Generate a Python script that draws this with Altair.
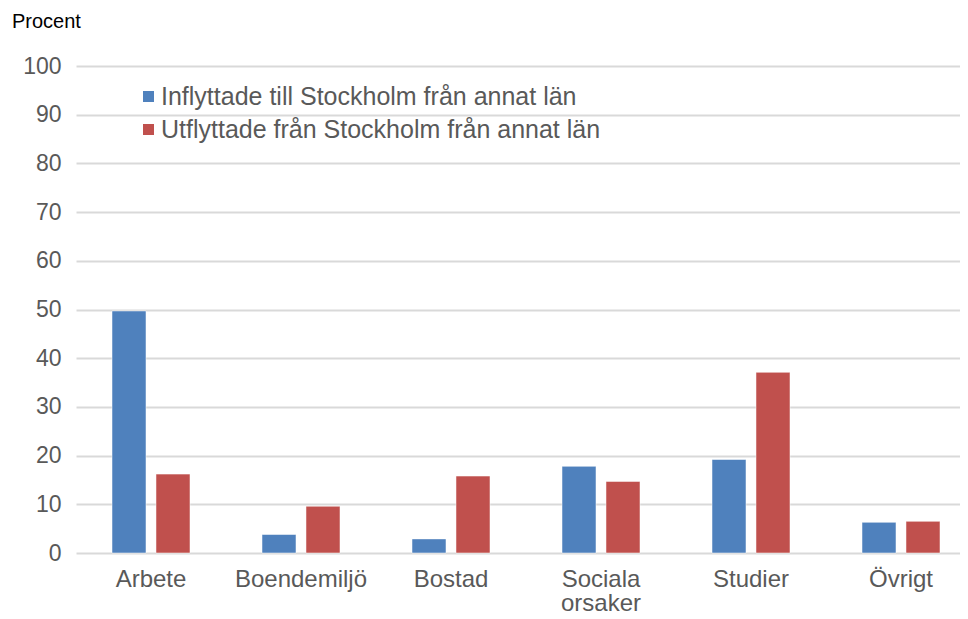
import altair as alt
import pandas as pd

categories = ["Arbete", "Boendemiljö", "Bostad", "Sociala orsaker", "Studier", "Övrigt"]
series_names = ["Inflyttade till Stockholm från annat län", "Utflyttade från Stockholm från annat län"]
inflyttade = [49.7, 3.8, 2.9, 17.8, 19.2, 6.3]
utflyttade = [16.2, 9.6, 15.8, 14.7, 37.1, 6.5]
y_ticks = [0, 10, 20, 30, 40, 50, 60, 70, 80, 90, 100]

rows = []
for c, a, b in zip(categories, inflyttade, utflyttade):
    rows.append({"kategori": c, "serie": series_names[0], "värde": a})
    rows.append({"kategori": c, "serie": series_names[1], "värde": b})
df = pd.DataFrame(rows)

FONT = "Liberation Sans"

chart = alt.Chart(df).mark_bar(stroke="#ffffff", strokeOpacity=0.5, strokeWidth=1).encode(
    x=alt.X("kategori:N", sort=categories, title=None,
            scale=alt.Scale(range=[0, 900], paddingInner=0.48, paddingOuter=0.24),
            axis=alt.Axis(labelAngle=0, labelFont=FONT, labelFontSize=24, labelColor="#595959",
                          labelPadding=14, ticks=False, domain=False, grid=False,
                          labelLineHeight=24,
                          labelExpr="datum.label == 'Sociala orsaker' ? ['Sociala', 'orsaker'] : datum.label")),
    xOffset=alt.XOffset("serie:N", sort=series_names,
                        scale=alt.Scale(paddingInner=0.227, paddingOuter=0)),
    y=alt.Y("värde:Q", title=None,
            scale=alt.Scale(domain=[0, 100], nice=False),
            axis=alt.Axis(values=y_ticks, labelFont=FONT, labelFontSize=23, labelColor="#595959",
                          labelPadding=15, ticks=False, domain=False,
                          gridColor="#d9d9d9", gridWidth=2)),
    color=alt.Color("serie:N", sort=series_names,
                    scale=alt.Scale(domain=series_names, range=["#4F81BD", "#C0504D"]),
                    legend=alt.Legend(title=None, orient="none", legendX=60, legendY=18,
                                      symbolType="square", symbolSize=121, symbolStrokeWidth=0,
                                      labelFont=FONT, labelFontSize=25, labelColor="#595959",
                                      labelLimit=0,
                                      labelOffset=0, rowPadding=7, padding=0)),
).properties(
    width=884,
    height=487,
    autosize=alt.AutoSizeParams(type="none"),
    padding={"left": 68, "top": 58, "right": 0, "bottom": 58},
    title=alt.TitleParams(text="Procent", anchor="start", frame="group", dx=-64, dy=-3,
                          font=FONT, fontSize=20, fontWeight="normal", color="#000000",
                          offset=0, baseline="bottom"),
).configure_view(stroke=None)

chart.save("out.html", embed_options={"renderer": "svg", "actions": False})
